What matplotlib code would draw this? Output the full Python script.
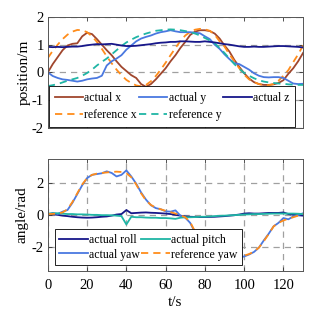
import matplotlib
matplotlib.use("Agg")
import matplotlib.pyplot as plt
import numpy as np

plt.rcParams['font.family'] = ['Liberation Serif', 'DejaVu Serif']
plt.rcParams['axes.unicode_minus'] = False

t = np.arange(0, 130.01, 2.5)

ref_x = [0.52, 0.78, 1.0, 1.2, 1.36, 1.47, 1.53, 1.52, 1.45, 1.3, 1.1, 0.85, 0.58, 0.33, 0.1, -0.1, -0.27,
         -0.38, -0.47, -0.5, -0.45, -0.32, -0.13, 0.1, 0.35, 0.62, 0.88, 1.13, 1.33, 1.46, 1.54, 1.57, 1.55,
         1.5, 1.36, 1.12, 0.93, 0.65, 0.4, 0.15, -0.08, -0.25, -0.35, -0.42, -0.46, -0.46, -0.42, -0.3,
         -0.12, 0.08, 0.37, 0.65, 0.97]
act_x = [0.0, 0.3, 0.55, 0.8, 0.97, 1.03, 1.05, 1.3, 1.43, 1.38, 1.2, 1.0, 0.8, 0.62, 0.4, 0.2, 0.05,
         -0.1, -0.2, -0.42, -0.52, -0.42, -0.25, -0.05, 0.15, 0.4, 0.62, 0.88, 1.1, 1.35, 1.47, 1.52, 1.52,
         1.49, 1.4, 1.22, 0.97, 0.75, 0.45, 0.2, -0.03, -0.22, -0.35, -0.42, -0.45, -0.45, -0.43, -0.38,
         -0.28, -0.05, 0.15, 0.4, 0.7]
ref_y = [-0.49, -0.46, -0.42, -0.36, -0.3, -0.25, -0.2, -0.12, -0.02, 0.1, 0.25, 0.38, 0.5, 0.65, 0.8,
         0.95, 1.08, 1.18, 1.27, 1.34, 1.4, 1.45, 1.5, 1.52, 1.54, 1.55, 1.54, 1.52, 1.49, 1.45, 1.4, 1.33,
         1.24, 1.15, 1.05, 0.88, 0.7, 0.5, 0.3, 0.13, -0.02, -0.12, -0.21, -0.28, -0.33, -0.36, -0.38, -0.4,
         -0.41, -0.43, -0.44, -0.45, -0.45]
act_y = [0.0, -0.13, -0.2, -0.25, -0.27, -0.3, -0.33, -0.3, -0.25, -0.22, -0.2, -0.12, 0.25, 0.4, 0.5,
         0.62, 0.82, 0.97, 1.12, 1.22, 1.28, 1.33, 1.4, 1.45, 1.48, 1.52, 1.48, 1.45, 1.45, 1.45, 1.43, 1.41,
         1.3, 1.2, 1.0, 0.85, 0.65, 0.48, 0.33, 0.3, 0.2, 0.1, -0.03, -0.12, -0.17, -0.18, -0.17, -0.17,
         -0.2, -0.3, -0.4, -0.42, -0.41]
act_z = [0.92, 0.91, 0.92, 0.91, 0.92, 0.93, 0.93, 0.95, 0.98, 1.0, 1.02, 1.01, 1.02, 1.03, 1.0, 0.97,
         0.95, 0.95, 0.96, 0.98, 1.0, 1.02, 1.05, 1.07, 1.08, 1.1, 1.1, 1.12, 1.12, 1.11, 1.1, 1.1, 1.12,
         1.1, 1.08, 1.05, 1.02, 1.0, 0.97, 0.94, 0.92, 0.92, 0.93, 0.92, 0.92, 0.93, 0.94, 0.95, 0.95, 0.94,
         0.93, 0.92, 0.9]

ref_yaw = [0.05, 0.06, 0.08, 0.15, 0.35, 0.8, 1.35, 1.9, 2.3, 2.5, 2.58, 2.62, 2.65, 2.68, 2.7, 2.68,
           2.6, 2.35, 1.9, 1.35, 0.9, 0.62, 0.45, 0.35, 0.25, 0.17, 0.08, -0.02, -0.15, -0.45, -1.05, -1.7,
           -2.25, -2.55, -2.68, -2.72, -2.75, -2.75, -2.72, -2.65, -2.55, -2.45, -2.3, -2.05, -1.65, -1.2,
           -0.72, -0.5, -0.35, -0.25, -0.15, -0.05, 0.05]
act_yaw = [0.02, 0.12, 0.05, 0.2, 0.3, 0.75, 1.3, 1.85, 2.3, 2.5, 2.55, 2.6, 2.72, 2.62, 2.4, 2.5, 2.78,
           2.4, 1.95, 1.4, 0.95, 0.6, 0.42, 0.35, 0.22, 0.2, 0.28, -0.05, -0.18, -0.5, -1.1, -1.75, -2.3,
           -2.6, -2.7, -2.75, -2.78, -2.75, -2.72, -2.68, -2.6, -2.48, -2.32, -2.05, -1.6, -1.18, -0.72,
           -0.5, -0.2, -0.28, -0.1, -0.02, 0.1]
act_roll = [0.05, 0.03, 0.0, -0.05, -0.08, -0.12, -0.15, -0.17, -0.18, -0.17, -0.15, -0.12, -0.1, -0.05,
            0.02, 0.05, 0.3, 0.1, 0.12, 0.14, 0.15, 0.13, 0.12, 0.1, 0.08, 0.05, 0.0, -0.05, -0.1, -0.12,
            -0.13, -0.14, -0.14, -0.13, -0.12, -0.1, -0.08, -0.05, -0.02, 0.02, 0.08, 0.1, 0.08, 0.08, 0.1,
            0.12, 0.12, 0.12, 0.15, 0.05, 0.0, -0.02, -0.05]
act_pitch = [0.08, 0.1, 0.1, 0.08, 0.05, 0.05, 0.03, 0.03, 0.02, 0.0, 0.0, -0.02, -0.02, -0.03, -0.05,
             -0.08, -0.6, -0.12, -0.15, -0.15, -0.17, -0.18, -0.18, -0.2, -0.2, -0.22, -0.25, -0.18, -0.15,
             -0.15, -0.14, -0.12, -0.12, -0.1, -0.08, -0.06, -0.05, -0.03, -0.02, 0.0, 0.02, 0.03, 0.05,
             0.05, 0.06, 0.07, 0.08, 0.08, 0.08, 0.08, 0.08, 0.07, 0.05]

xticks = [0, 20, 40, 60, 80, 100, 120]
yticks_top = [-2, -1, 0, 1, 2]
yticks_bot = [-2, 0, 2]

c_brown = '#A0462D'
c_orange = '#FF8C1A'
c_blue = '#4A78E0'
c_teal = '#1FB5A5'
c_navy = '#17178A'

fig = plt.figure(figsize=(3.19, 3.19), dpi=100)
ax1 = fig.add_axes([0.150, 0.599, 0.800, 0.348])
ax2 = fig.add_axes([0.150, 0.151, 0.800, 0.351])

lw = 1.3
dash = (4.0, 2.8)
grid_kw = dict(color='#A0A0A0', linestyle=(0, (5, 4)), linewidth=0.9)

ax1.plot(t, act_x, color=c_brown, lw=lw, label='actual x')
ax1.plot(t, ref_x, color=c_orange, lw=lw, dashes=dash, label='reference x')
ax1.plot(t, act_y, color=c_blue, lw=lw, label='actual y')
ax1.plot(t, ref_y, color=c_teal, lw=lw, dashes=dash, label='reference y')
ax1.plot(t, act_z, color=c_navy, lw=lw, label='actual z')
ax1.set_xlim(0, 130)
ax1.set_ylim(-2, 2)
ax1.set_xticks(xticks)
ax1.set_xticklabels([])
ax1.set_yticks(yticks_top)
ax1.yaxis.grid(True, **grid_kw)
ax1.set_axisbelow(True)
ax1.set_ylabel('position/m', fontsize=11)
ax1.yaxis.set_label_coords(-0.068, 0.5)

ax2.plot(t, act_roll, color=c_navy, lw=lw, label='actual roll')
ax2.plot(t, act_yaw, color=c_blue, lw=lw, label='actual yaw')
ax2.plot(t, act_pitch, color=c_teal, lw=lw, label='actual pitch')
ax2.plot(t, ref_yaw, color=c_orange, lw=lw, dashes=dash, label='reference yaw')
ax2.set_xlim(0, 130)
ax2.set_ylim(-3.5, 3.5)
ax2.set_xticks(xticks)
ax2.set_yticks(yticks_bot)
ax2.grid(True, **grid_kw)
ax2.set_axisbelow(True)
ax2.set_ylabel('angle/rad', fontsize=11)
ax2.yaxis.set_label_coords(-0.075, 0.5)
ax2.set_xlabel('t/s', fontsize=11, labelpad=3)

for ax in (ax1, ax2):
    ax.tick_params(direction='in', top=True, right=True, length=3, width=0.6,
                   labelsize=10.5, pad=3, color='#333333')
    for s in ax.spines.values():
        s.set_linewidth(0.7)
        s.set_color('#555555')
ax2.tick_params(axis='x', pad=6)

leg_kw = dict(loc='lower left', mode='expand', fontsize=8.5, frameon=True, fancybox=False,
              framealpha=1, edgecolor='black', handlelength=2.4, handletextpad=0.1,
              borderaxespad=0, columnspacing=0.5)
l1 = ax1.legend(ncol=3, bbox_to_anchor=(0.004, 0.01, 0.965, 0.3),
                borderpad=0.5, labelspacing=0.4, **leg_kw)
l1.get_frame().set_linewidth(0.6)
l2 = ax2.legend(ncol=2, bbox_to_anchor=(0.027, 0.05, 0.733, 0.3),
                borderpad=0.4, labelspacing=0.2, **leg_kw)
l2.get_frame().set_linewidth(0.6)

fig.savefig('out.png', dpi=100)
